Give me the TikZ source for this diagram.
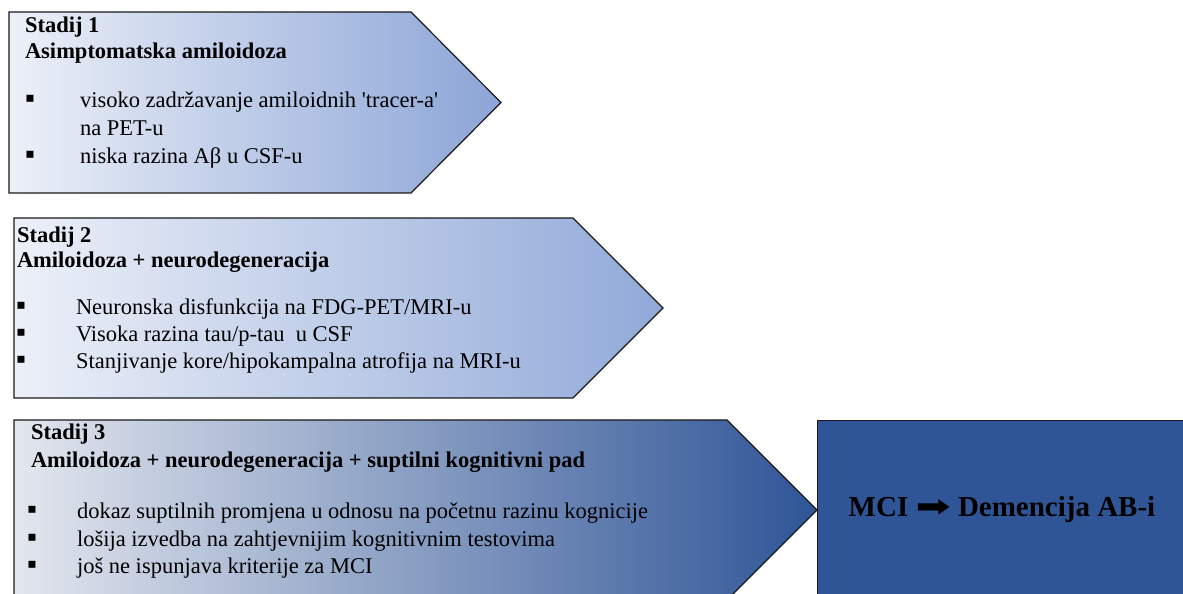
\documentclass[tikz,border=0pt]{standalone}
\usepackage{fontspec}
\setmainfont{Liberation Serif}
\newfontfamily\arrowfont{DejaVu Sans}

\begin{document}
\begin{tikzpicture}[x=1pt,y=1pt,
  stagebox/.style={draw=drawColor,line width=1.2pt,line join=miter},
  headtxt/.style={text=textColor,anchor=base west,inner sep=0pt,outer sep=0pt,font=\fontsize{22.5}{27}\selectfont\bfseries},
  itemtxt/.style={text=textColor,anchor=base west,inner sep=0pt,outer sep=0pt,font=\fontsize{22.5}{27}\selectfont},
  dottxt/.style={text=textColor,anchor=base,inner sep=0pt,outer sep=0pt,font=\fontsize{28}{30}\selectfont}]
\definecolor{fillColor}{RGB}{255,255,255}
\definecolor{drawColor}{RGB}{26,26,26}
\definecolor{textColor}{RGB}{0,0,0}
\definecolor{lightLeft}{RGB}{236,240,248}
\definecolor{midRight}{RGB}{140,165,215}
\definecolor{darkMid}{RGB}{122,143,190}
\definecolor{darkRight}{RGB}{47,85,151}
\path[use as bounding box,fill=fillColor] (0,0) rectangle (1183,594);
\begin{scope}
\path[clip] (0,0) rectangle (1183,594);

\path[stagebox,left color=lightLeft,right color=midRight] (  9,582) --
	(411,582) --
	(501,491.5) --
	(411,401) --
	(  9,401) -- cycle;

\path[stagebox,left color=lightLeft,right color=midRight!95!white] ( 14,376) --
	(573,376) --
	(663,286) --
	(573,196) --
	( 14,196) -- cycle;

\path[stagebox,left color=lightLeft!96!black,middle color=darkMid,right color=darkRight] ( 14,174) --
	(727,174) --
	(817, 84) --
	(727, -6) --
	( 14, -6) -- cycle;

\path[draw=drawColor,line width=0.8pt,fill=darkRight] (817,174) rectangle (1190,-6);
\end{scope}
\begin{scope}

% Stadij 1
\node[headtxt] (s1num) at ( 25,561) {Stadij 1};
\node[headtxt] (s1head) at ( 25,535) {Asimptomatska amiloidoza};
\node[dottxt] (s1dotA) at ( 30,486) {▪};
\node[itemtxt] (s1itemA) at ( 80,486) {visoko zadržavanje amiloidnih \textquotesingle tracer-a\textquotesingle};
\node[itemtxt] (s1itemAb) at ( 80,458) {na PET-u};
\node[dottxt] (s1dotB) at ( 30,430) {▪};
\node[itemtxt] (s1itemB) at ( 80,430) {niska razina Aβ u CSF-u};

% Stadij 2
\node[headtxt] (s2num) at ( 17,351) {Stadij 2};
\node[headtxt] (s2head) at ( 17,326) {Amiloidoza + neurodegeneracija};
\node[dottxt] (s2dotA) at ( 21,279) {▪};
\node[itemtxt] (s2itemA) at ( 76,279) {Neuronska disfunkcija na FDG-PET/MRI-u};
\node[dottxt] (s2dotB) at ( 21,252) {▪};
\node[itemtxt] (s2itemB) at ( 76,252) {Visoka razina tau/p-tau~ u CSF};
\node[dottxt] (s2dotC) at ( 21,225) {▪};
\node[itemtxt] (s2itemC) at ( 76,225) {Stanjivanje kore/hipokampalna atrofija na MRI-u};

% Stadij 3
\node[headtxt] (s3num) at ( 31,154) {Stadij 3};
\node[headtxt] (s3head) at ( 31,126) {Amiloidoza + neurodegeneracija + suptilni kognitivni pad};
\node[dottxt] (s3dotA) at ( 32, 75) {▪};
\node[itemtxt] (s3itemA) at ( 77, 75) {dokaz suptilnih promjena u odnosu na početnu razinu kognicije};
\node[dottxt] (s3dotB) at ( 32, 47) {▪};
\node[itemtxt] (s3itemB) at ( 77, 47) {lošija izvedba na zahtjevnijim kognitivnim testovima};
\node[dottxt] (s3dotC) at ( 32, 20) {▪};
\node[itemtxt] (s3itemC) at ( 77, 20) {još ne ispunjava kriterije za MCI};

% MCI
\node[text=textColor,anchor=base,inner sep=0pt,outer sep=0pt,font=\fontsize{29}{34}\selectfont\bfseries] (mci) at (1002, 77) {MCI {\arrowfont\scalebox{1.45}[1.0]{➡}} Demencija AB-i};
\end{scope}
\end{tikzpicture}
\end{document}
